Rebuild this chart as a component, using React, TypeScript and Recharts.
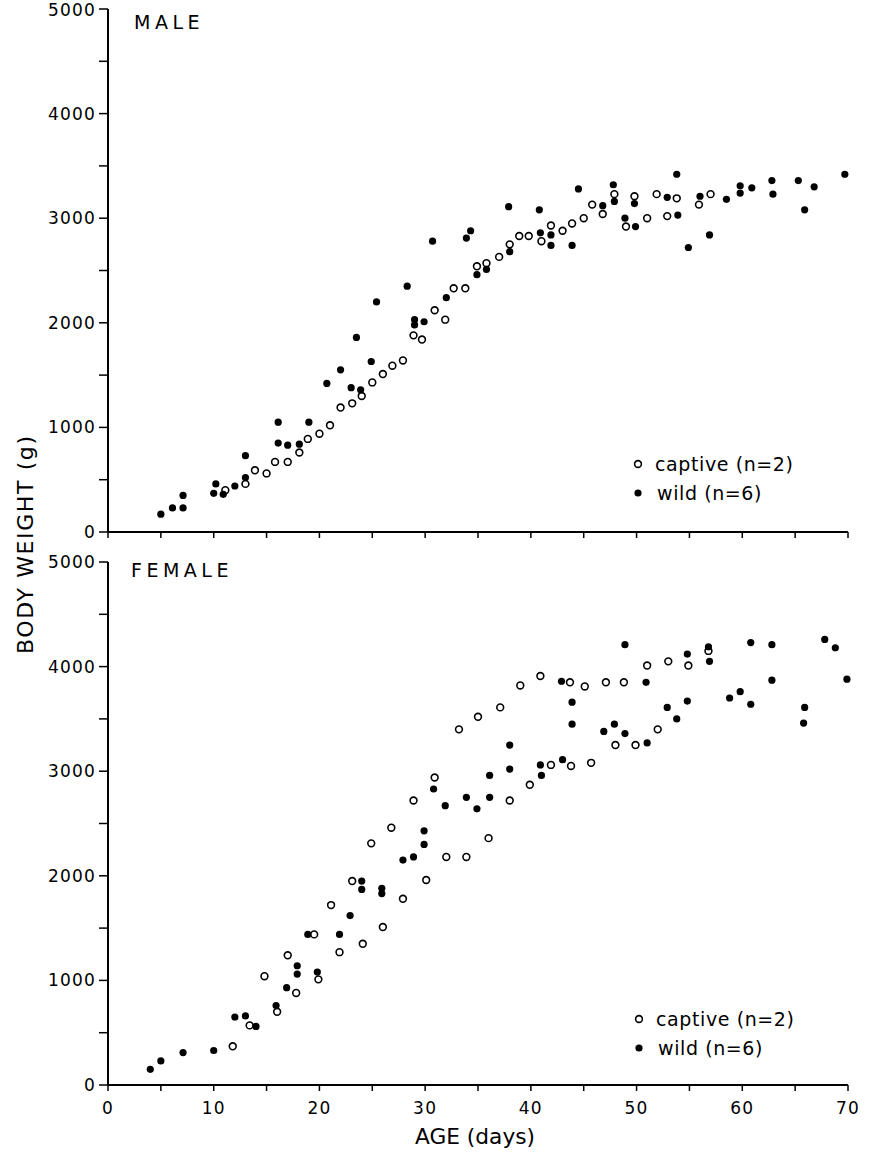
import { ScatterChart, Scatter, XAxis, YAxis } from 'recharts'

// age (days) / body weight (g)
const maleCaptiveAge = [11.1, 13.0, 13.9, 15.0, 15.8, 17.0, 18.1, 18.9, 20.0, 21.0, 22.0, 23.1, 24.0, 25.0, 26.0, 26.9, 27.9, 28.9, 29.7, 30.9, 31.9, 32.7, 33.8, 34.9, 35.8, 37.0, 38.0, 38.9, 39.8, 41.0, 41.9, 43.0, 43.9, 45.0, 45.8, 46.8, 47.9, 49.0, 49.8, 51.0, 51.9, 52.9, 53.8, 55.9, 57.0]
const maleCaptiveWeight = [400, 460, 590, 560, 670, 670, 760, 890, 940, 1020, 1190, 1230, 1300, 1430, 1510, 1590, 1640, 1880, 1840, 2120, 2030, 2330, 2330, 2540, 2570, 2630, 2750, 2830, 2830, 2780, 2930, 2880, 2950, 3000, 3130, 3040, 3230, 2920, 3210, 3000, 3230, 3020, 3190, 3130, 3230]

const maleWildAge = [5.0, 6.1, 7.1, 7.1, 10.0, 10.2, 10.9, 12.0, 13.0, 13.0, 16.1, 16.1, 17.0, 18.1, 19.0, 20.7, 22.0, 23.0, 23.5, 23.9, 24.9, 25.4, 28.3, 29.0, 29.0, 29.9, 30.7, 32.0, 33.9, 34.3, 34.9, 35.8, 37.9, 38.0, 40.8, 40.9, 41.9, 41.9, 43.9, 44.5, 46.8, 47.8, 47.9, 48.9, 49.9, 49.8, 52.9, 53.8, 53.9, 54.9, 56.0, 56.9, 58.5, 59.8, 59.8, 60.9, 62.8, 62.9, 65.3, 65.9, 66.8, 69.7]
const maleWildWeight = [170, 230, 230, 350, 370, 460, 360, 440, 520, 730, 1050, 850, 830, 840, 1050, 1420, 1550, 1380, 1860, 1360, 1630, 2200, 2350, 2030, 1980, 2010, 2780, 2240, 2810, 2880, 2460, 2510, 3110, 2680, 3080, 2860, 2840, 2740, 2740, 3280, 3120, 3320, 3160, 3000, 2920, 3140, 3200, 3420, 3030, 2720, 3210, 2840, 3180, 3310, 3240, 3290, 3360, 3230, 3360, 3080, 3300, 3420]

const femaleCaptiveAge = [11.8, 13.4, 14.8, 16.0, 17.0, 17.8, 19.5, 19.9, 21.1, 21.9, 23.1, 24.1, 24.9, 26.0, 26.8, 27.9, 28.9, 30.1, 30.9, 32.0, 33.2, 33.9, 35.0, 36.0, 37.1, 38.0, 39.0, 39.9, 40.9, 41.9, 43.7, 43.8, 45.1, 45.7, 47.1, 48.0, 48.8, 49.9, 51.0, 52.0, 53.0, 54.9, 56.8]
const femaleCaptiveWeight = [370, 570, 1040, 700, 1240, 880, 1440, 1010, 1720, 1270, 1950, 1350, 2310, 1510, 2460, 1780, 2720, 1960, 2940, 2180, 3400, 2180, 3520, 2360, 3610, 2720, 3820, 2870, 3910, 3060, 3850, 3050, 3810, 3080, 3850, 3250, 3850, 3250, 4010, 3400, 4050, 4010, 4150]

const femaleWildAge = [4.0, 5.0, 7.1, 10.0, 12.0, 13.0, 14.0, 15.9, 16.9, 17.9, 17.9, 18.9, 19.8, 21.9, 22.9, 24.0, 24.0, 25.9, 25.9, 27.9, 28.9, 29.9, 29.9, 30.8, 31.9, 33.9, 34.9, 36.1, 36.1, 38.0, 38.0, 40.9, 41.0, 42.9, 43.0, 43.9, 43.9, 46.9, 47.9, 48.9, 48.9, 50.9, 51.0, 52.9, 53.8, 54.8, 54.8, 56.8, 56.9, 58.8, 59.8, 60.8, 60.8, 62.8, 62.8, 65.8, 65.9, 67.8, 68.8, 69.9]
const femaleWildWeight = [150, 230, 310, 330, 650, 660, 560, 760, 930, 1140, 1060, 1440, 1080, 1440, 1620, 1950, 1870, 1880, 1830, 2150, 2180, 2430, 2300, 2830, 2670, 2750, 2640, 2960, 2750, 3250, 3020, 3060, 2960, 3860, 3110, 3660, 3450, 3380, 3450, 3360, 4210, 3850, 3270, 3610, 3500, 4120, 3670, 4190, 4050, 3700, 3760, 3640, 4230, 4210, 3870, 3460, 3610, 4260, 4180, 3880]

const xTicks = [0, 5, 10, 15, 20, 25, 30, 35, 40, 45, 50, 55, 60, 65, 70]
const yTicks = [0, 500, 1000, 1500, 2000, 2500, 3000, 3500, 4000, 4500, 5000]

const zip = (age: number[], w: number[]) => age.map((a, i) => ({ age: a, w: w[i] }))

const FONT = '"DejaVu Sans", sans-serif'

const OpenDot = (p: any) => <circle cx={p.cx} cy={p.cy} r={3.4} fill="#fff" stroke="#000" strokeWidth={1.6} />
const FilledDot = (p: any) => <circle cx={p.cx} cy={p.cy} r={3.6} fill="#000" />

const tickStyle = { fontSize: 17, fill: '#000', fontFamily: FONT, letterSpacing: 1.2 }
const axisLine = { stroke: '#000', strokeWidth: 2 }
const tickLine = { stroke: '#000', strokeWidth: 1.5 }

function Panel({ captive, wild, height, top, bottom, showXLabels }: any) {
  return (
    <ScatterChart width={871} height={height} margin={{ top, right: 23, bottom, left: 0 }}>
      <XAxis
        type="number" dataKey="age" domain={[0, 70]} ticks={xTicks}
        tickFormatter={(v: number) => (showXLabels && v % 10 === 0 ? String(v) : '')}
        tick={tickStyle} tickSize={6} tickMargin={11}
        axisLine={axisLine} tickLine={tickLine} height={showXLabels ? 40 : 16}
      />
      <YAxis
        type="number" dataKey="w" domain={[0, 5000]} ticks={yTicks}
        tickFormatter={(v: number) => (v % 1000 === 0 ? String(v) : '')}
        tick={tickStyle} tickSize={9} tickMargin={3}
        axisLine={axisLine} tickLine={tickLine} width={108}
      />
      <Scatter data={captive} shape={OpenDot} isAnimationActive={false} />
      <Scatter data={wild} shape={FilledDot} isAnimationActive={false} />
    </ScatterChart>
  )
}

function LegendBox({ x, y }: { x: number, y: number }) {
  return (
    <g fontFamily={FONT} fontSize={19} letterSpacing={0.6}>
      <circle cx={x} cy={y} r={3.4} fill="#fff" stroke="#000" strokeWidth={1.6} />
      <text x={x + 17} y={y} dominantBaseline="central">captive (n=2)</text>
      <circle cx={x} cy={y + 29} r={3.6} fill="#000" />
      <text x={x + 19} y={y + 29} dominantBaseline="central">wild (n=6)</text>
    </g>
  )
}

export default function App() {
  return (
    <div style={{ position: 'absolute', left: 0, top: 0, width: 871, height: 1153, background: '#fff' }}>
      <div style={{ position: 'absolute', left: 0, top: 0 }}>
        <Panel captive={zip(maleCaptiveAge, maleCaptiveWeight)} wild={zip(maleWildAge, maleWildWeight)}
          height={548} top={9} bottom={0} showXLabels={false} />
      </div>
      <div style={{ position: 'absolute', left: 0, top: 548 }}>
        <Panel captive={zip(femaleCaptiveAge, femaleCaptiveWeight)} wild={zip(femaleWildAge, femaleWildWeight)}
          height={605} top={14} bottom={28} showXLabels={true} />
      </div>
      <svg width={871} height={1153} style={{ position: 'absolute', left: 0, top: 0, pointerEvents: 'none' }}>
        <text x={134} y={29} fontFamily={FONT} fontSize={19} letterSpacing={4.5}>MALE</text>
        <text x={131} y={577} fontFamily={FONT} fontSize={19} letterSpacing={4.5}>FEMALE</text>
        <text x={25} y={545} transform="rotate(-90 25 545)" textAnchor="middle" dominantBaseline="central"
          fontFamily={FONT} fontSize={22} textLength={218}
          lengthAdjust="spacing">BODY WEIGHT (g)</text>
        <text x={475} y={1137} textAnchor="middle" dominantBaseline="central" fontFamily={FONT} fontSize={21}
          textLength={120} lengthAdjust="spacingAndGlyphs">AGE (days)</text>
        <LegendBox x={638} y={464} />
        <LegendBox x={639} y={1019} />
      </svg>
    </div>
  )
}
